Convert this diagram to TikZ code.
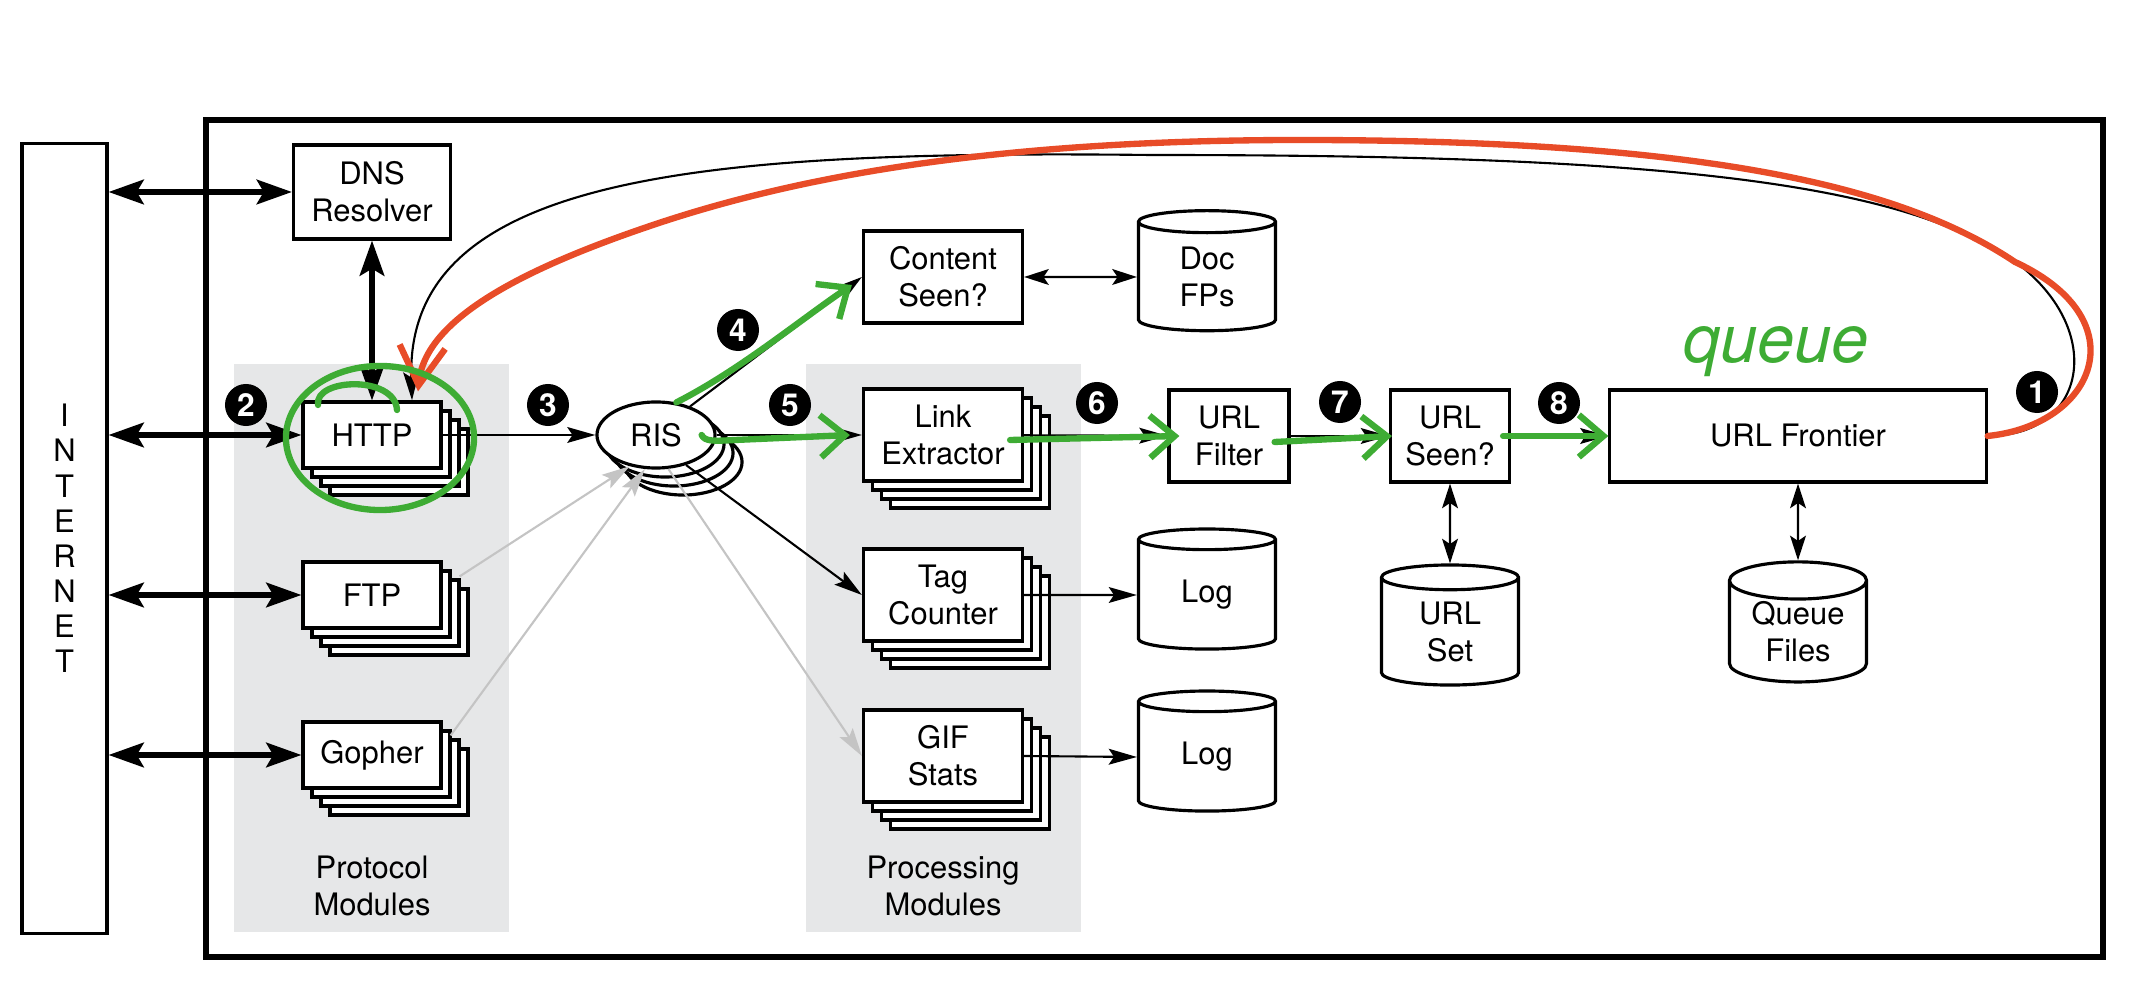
\documentclass[tikz,border=0pt]{standalone}
\usepackage{fontspec}
\setmainfont{TeX Gyre Heros}
\usetikzlibrary{arrows.meta,shapes.geometric,shadows}

\definecolor{band}{RGB}{230,231,232}
\definecolor{faint}{RGB}{196,196,196}
\definecolor{inkred}{RGB}{232,76,40}
\definecolor{inkgreen}{RGB}{62,172,52}

\tikzset{
  plainbox/.style={draw, line width=0.9pt, fill=white, align=center, inner sep=0pt},
  modbox/.style={plainbox, minimum width=1.38cm, minimum height=0.66cm},
  procbox/.style={plainbox, minimum width=1.59cm, minimum height=0.92cm},
  stack/.style={copy shadow={shadow xshift=0.27cm, shadow yshift=-0.27cm},
                copy shadow={shadow xshift=0.18cm, shadow yshift=-0.18cm},
                copy shadow={shadow xshift=0.09cm, shadow yshift=-0.09cm}},
  store/.style={cylinder, shape border rotate=90, aspect=0.4, draw, line width=0.9pt,
                fill=white, align=center, minimum width=1.37cm, minimum height=1.2cm, inner sep=0pt},
  stepnum/.style={circle, fill=black, text=white, font=\bfseries\fontsize{9}{9}\selectfont,
                  minimum size=0.42cm, inner sep=0pt},
  flow/.style={line width=0.6pt, -{Stealth[length=8pt,width=4.5pt,inset=1.5pt]}},
  twoway/.style={line width=0.6pt, {Stealth[length=7pt,width=4.5pt,inset=1.5pt]}-{Stealth[length=7pt,width=4.5pt,inset=1.5pt]}},
  netlink/.style={line width=1.5pt, {Stealth[length=10pt,width=7pt,inset=2pt]}-{Stealth[length=10pt,width=7pt,inset=2pt]}},
  greyed/.style={faint, line width=0.6pt, -{Stealth[length=8pt,width=4.5pt,inset=1.5pt]}},
  pen/.style={inkgreen, line width=1.8pt, line cap=round, line join=round},
  penhead/.style={pen, -{Straight Barb[length=7pt,width=12pt]}},
}

\begin{document}
\begin{tikzpicture}[x=0.01cm, y=-0.01cm, font=\fontsize{8.8}{10.5}\selectfont]
  \path[use as bounding box, fill=white] (0,0) rectangle (2130,998);

  \fill[band] (234,364) rectangle (509,932);
  \fill[band] (806,364) rectangle (1081,932);
  \node[align=center] (protolbl) at (372,886) {Protocol\\Modules};
  \node[align=center] (proclbl) at (943,886) {Processing\\Modules};

  \draw[line width=1.7pt] (206,120) rectangle (2103,957);

  \node[plainbox, minimum width=0.85cm, minimum height=7.89cm,
        font=\fontsize{8.8}{10}\selectfont] (internet) at (64.5,538.5) {I\\N\\T\\E\\R\\N\\E\\T};

  \node[plainbox, minimum width=1.57cm, minimum height=0.94cm] (dns) at (372,192) {DNS\\Resolver};
  \node[modbox, stack] (http) at (372,435) {HTTP};
  \node[modbox, stack] (ftp) at (372,595) {FTP};
  \node[modbox, stack] (gopher) at (372,755) {Gopher};

  \node[ellipse, draw, line width=0.9pt, fill=white, minimum width=1.18cm, minimum height=0.66cm,
        inner sep=0pt, stack] (ris) at (656,435) {RIS};

  \node[procbox] (content) at (943,277) {Content\\Seen?};
  \node[procbox, stack] (link) at (943,435) {Link\\Extractor};
  \node[procbox, stack] (tag) at (943,595) {Tag\\Counter};
  \node[procbox, stack] (gif) at (943,756) {GIF\\Stats};

  \node[store] (docfp) at (1207,277) {Doc\\FPs};
  \node[store] (log1) at (1207,595) {Log};
  \node[store] (log2) at (1207,757) {Log};

  \node[procbox, minimum width=1.2cm] (filter) at (1229,436) {URL\\Filter};
  \node[procbox, minimum width=1.19cm] (seen) at (1450,436) {URL\\Seen?};
  \node[procbox, minimum width=3.76cm] (frontier) at (1798,436) {URL Frontier};
  \node[store] (urlset) at (1450,632) {URL\\Set};
  \node[store] (queue) at (1798,632) {Queue\\Files};

  \node[stepnum] (s1) at (2037,392) {1};
  \node[stepnum] (s2) at (246,405) {2};
  \node[stepnum] (s3) at (548,405) {3};
  \node[stepnum] (s4) at (738,330) {4};
  \node[stepnum] (s5) at (790,405) {5};
  \node[stepnum] (s6) at (1097,403) {6};
  \node[stepnum] (s7) at (1340,402) {7};
  \node[stepnum] (s8) at (1559,403) {8};

  \draw[netlink] (internet.east |- dns.west) -- (dns.west);
  \draw[netlink] (internet.east |- http.west) -- (http.west);
  \draw[netlink] (internet.east |- ftp.west) -- (ftp.west);
  \draw[netlink] (internet.east |- gopher.west) -- (gopher.west);
  \draw[netlink] (dns) -- (http);

  \draw[flow] (http.east) -- (ris.west);
  \draw[greyed] ([xshift=0.17cm,yshift=-0.16cm]ftp.north east) -- (ris.-130);
  \draw[greyed] ([xshift=0.08cm,yshift=-0.15cm]gopher.north east) -- (ris.-108);
  \draw[flow] (ris.40) -- (content.west);
  \draw[flow] (ris.east) -- (link.west);
  \draw[flow] (ris.-45) -- (tag.west);
  \draw[greyed] (ris.-70) -- (gif.west);
  \draw[twoway] (content.east) -- (docfp.west);
  \draw[flow] (tag.east) -- (log1.west);
  \draw[flow] (gif.east) -- (log2.west);
  \draw[flow] (link) -- (filter);
  \draw[flow] (filter) -- (seen);
  \draw[flow] (seen) -- (frontier);
  \draw[twoway] (seen) -- (urlset);
  \draw[twoway] (frontier) -- (queue);

  \draw[flow] (frontier.east) .. controls (2105,436) and (2110,290) .. (1960,232)
    .. controls (1820,170) and (1550,155) .. (1150,155)
    .. controls (700,150) and (405,175) .. ([xshift=0.4cm]http.north);

  % hand-written notes
  \draw[inkred, line width=1.8pt, line cap=round, line join=round, -{Straight Barb[length=11pt,width=13pt]}]
    (frontier.east) .. controls (2095,425) and (2140,320) .. (2015,262)
    .. controls (1900,185) and (1700,140) .. (1300,140)
    .. controls (1000,140) and (800,175) .. (650,226)
    .. controls (520,270) and (425,320) .. ([shift={(0.46cm,0.09cm)}]http.north);

  \draw[pen] (380,438) ellipse [x radius=0.94cm, y radius=0.72cm];
  \draw[pen] (318,405) .. controls (314,378) and (395,375) .. (397,410);
  \draw[penhead] (ris.58) .. controls (740,370) and (800,320) .. ([shift={(-0.1cm,-0.08cm)}]content.west);
  \draw[penhead] ([xshift=-0.15cm]ris.east) .. controls (705,442) and (715,441) .. (735,440)
    -- ([xshift=-0.12cm]link.west);
  \draw[penhead] ([xshift=-0.14cm,yshift=-0.05cm]link.east) -- ([xshift=0.12cm]filter.west);
  \draw[penhead] ([xshift=-0.16cm,yshift=-0.06cm]filter.east) -- ([xshift=0.03cm]seen.west);
  \draw[penhead] ([xshift=-0.08cm]seen.east) -- (frontier.west);
  \node[text=inkgreen, anchor=base, font=\itshape\fontsize{19}{19}\selectfont] (qnote) at (1776,363) {queue};
\end{tikzpicture}
\end{document}
